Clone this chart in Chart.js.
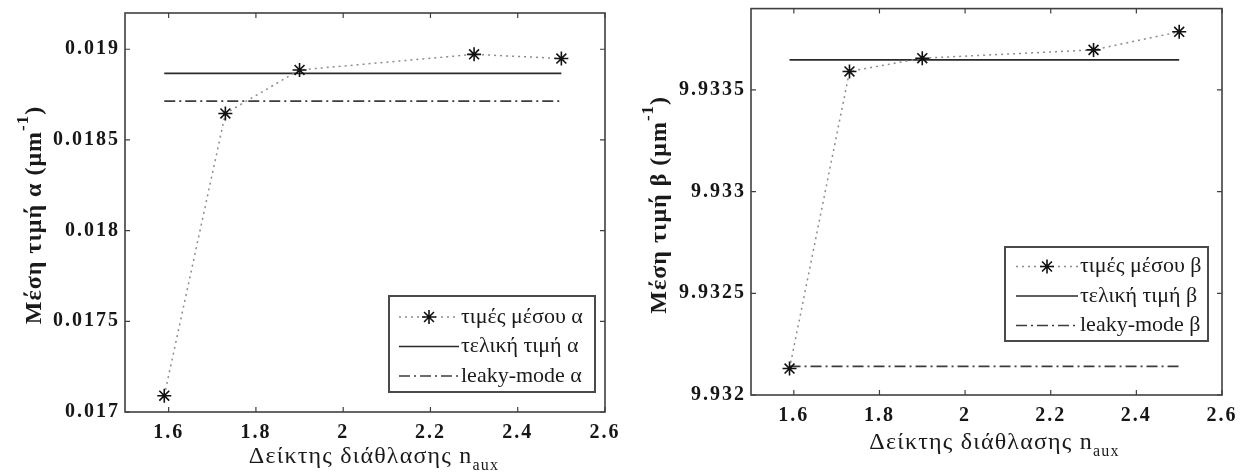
<!DOCTYPE html>
<html>
<head>
<meta charset="utf-8">
<script src="https://cdn.jsdelivr.net/npm/chart.js@4/dist/chart.umd.min.js"></script>
<style>
  html, body { margin: 0; padding: 0; background: #fff; width: 1243px; height: 475px; overflow: hidden; }
  .panel { position: absolute; top: 0; }
  #alphaWrap { left: 0; width: 620px; height: 475px; }
  #betaWrap { left: 620px; width: 623px; height: 475px; }
</style>
</head>
<body>
<div class="panel" id="alphaWrap"><canvas id="alphaChart" width="620" height="475"></canvas></div>
<div class="panel" id="betaWrap"><canvas id="betaChart" width="623" height="475"></canvas></div>
<script>
// Refractive index of the auxiliary layer (x values shared by both panels)
const nAux = [1.59, 1.73, 1.9, 2.3, 2.5];

// Attenuation constant α (μm^-1)
const meanAlpha = [0.01709, 0.018646, 0.018886, 0.018972, 0.018949];
const finalAlpha = 0.018867;
const leakyAlpha = 0.018714;

// Propagation constant β (μm^-1)
const meanBeta = [9.93213, 9.933591, 9.933656, 9.933697, 9.933786];
const finalBeta = 9.933648;
const leakyBeta = 9.932141;

// Tick values
const xTicks = [1.6, 1.8, 2, 2.2, 2.4, 2.6];
const alphaTicks = [0.017, 0.0175, 0.018, 0.0185, 0.019];
const betaTicks = [9.932, 9.9325, 9.933, 9.9335];

// Series names
const alphaLabels = ['τιμές μέσου α', 'τελική τιμή α', 'leaky-mode α'];
const betaLabels = ['τιμές μέσου β', 'τελική τιμή β', 'leaky-mode β'];

const SERIF = "'Liberation Serif', 'Times New Roman', serif";
const TICK_SPACING = '2px';

// Frame around the plot area with short inward tick marks on all four sides
const framePlugin = {
  id: 'frame',
  beforeLayout(chart) { chart.ctx.letterSpacing = TICK_SPACING; },
  beforeDraw(chart) { chart.ctx.letterSpacing = TICK_SPACING; },
  afterDraw(chart) {
    const { ctx, chartArea: a, scales } = chart;
    ctx.save();
    ctx.strokeStyle = '#404040';
    ctx.lineWidth = 1.6;
    ctx.strokeRect(a.left, a.top, a.right - a.left, a.bottom - a.top);
    ctx.lineWidth = 1.2;
    const len = 5;
    ctx.beginPath();
    scales.x.ticks.forEach(t => {
      const px = scales.x.getPixelForValue(t.value);
      ctx.moveTo(px, a.bottom); ctx.lineTo(px, a.bottom - len);
      ctx.moveTo(px, a.top); ctx.lineTo(px, a.top + len);
    });
    scales.y.ticks.forEach(t => {
      const py = scales.y.getPixelForValue(t.value);
      ctx.moveTo(a.left, py); ctx.lineTo(a.left + len, py);
      ctx.moveTo(a.right, py); ctx.lineTo(a.right - len, py);
    });
    ctx.stroke();
    ctx.restore();
  }
};

// Axis titles with sub/superscripts
const titlePlugin = {
  id: 'axisTitles',
  afterDraw(chart, args, opts) {
    const { ctx, chartArea: a } = chart;
    ctx.save();
    ctx.fillStyle = '#1a1a1a';
    ctx.textAlign = 'left';
    ctx.textBaseline = 'alphabetic';

    // vertical title
    const y = opts.y;
    ctx.save();
    ctx.letterSpacing = y.spacing;
    ctx.translate(a.left - y.offset, (a.top + a.bottom) / 2 + y.shift);
    ctx.rotate(-Math.PI / 2);
    ctx.font = `bold ${y.size}px ${SERIF}`;
    const wMain = ctx.measureText(y.main).width;
    const wTail = ctx.measureText(y.tail).width;
    ctx.font = `bold ${y.supSize}px ${SERIF}`;
    const wSup = ctx.measureText(y.sup).width;
    let x0 = -(wMain + wSup + wTail) / 2;
    const base = y.size * 0.33;
    ctx.font = `bold ${y.size}px ${SERIF}`;
    ctx.fillText(y.main, x0, base);
    x0 += wMain;
    ctx.font = `bold ${y.supSize}px ${SERIF}`;
    ctx.fillText(y.sup, x0, base - y.size * 0.55);
    x0 += wSup;
    ctx.font = `bold ${y.size}px ${SERIF}`;
    ctx.fillText(y.tail, x0, base);
    ctx.restore();

    // horizontal title
    const xt = opts.x;
    ctx.letterSpacing = xt.spacing;
    ctx.font = `${xt.size}px ${SERIF}`;
    const wx = ctx.measureText(xt.main).width;
    ctx.font = `${xt.subSize}px ${SERIF}`;
    const ws = ctx.measureText(xt.sub).width;
    let sx = (a.left + a.right) / 2 + xt.shift - (wx + ws) / 2;
    const by = a.bottom + xt.offset;
    ctx.font = `${xt.size}px ${SERIF}`;
    ctx.fillText(xt.main, sx, by);
    ctx.font = `${xt.subSize}px ${SERIF}`;
    ctx.fillText(xt.sub, sx + wx, by + xt.size * 0.3);
    ctx.restore();
  }
};

// Boxed legend drawn from the datasets' own styles
const boxLegendPlugin = {
  id: 'boxLegend',
  afterDraw(chart, args, opts) {
    const { ctx, chartArea: a } = chart;
    const bx = a.right - opts.right - opts.width;
    const by = a.bottom - opts.bottom - opts.height;
    ctx.save();
    ctx.letterSpacing = '0px';
    ctx.fillStyle = '#fff';
    ctx.fillRect(bx, by, opts.width, opts.height);
    ctx.strokeStyle = '#4a4a4a';
    ctx.lineWidth = 2;
    ctx.strokeRect(bx, by, opts.width, opts.height);
    chart.data.datasets.forEach((ds, i) => {
      const ry = by + opts.firstRow + i * opts.rowGap;
      const x1 = bx + opts.sampleStart, x2 = bx + opts.sampleEnd;
      ctx.save();
      ctx.strokeStyle = ds.borderColor;
      ctx.lineWidth = ds.borderWidth;
      ctx.setLineDash(ds.borderDash || []);
      ctx.beginPath();
      ctx.moveTo(x1, ry); ctx.lineTo(x2, ry);
      ctx.stroke();
      ctx.restore();
      if (ds.pointRadius > 0) {
        ctx.save();
        ctx.strokeStyle = ds.pointBorderColor;
        ctx.fillStyle = ds.pointBackgroundColor;
        ctx.lineWidth = ds.pointBorderWidth;
        Chart.helpers.drawPoint(ctx, { pointStyle: ds.pointStyle, radius: ds.pointRadius, borderWidth: ds.pointBorderWidth, rotation: 0 }, (x1 + x2) / 2, ry);
        ctx.restore();
      }
      ctx.fillStyle = '#1a1a1a';
      ctx.font = `${opts.fontSize}px ${SERIF}`;
      ctx.textAlign = 'left';
      ctx.textBaseline = 'middle';
      ctx.fillText(ds.label, bx + opts.textStart, ry);
    });
    ctx.restore();
  }
};

function buildChart(canvasId, meanVals, finalVal, leakyVal, yTicks, yMin, yMax, labels, cfg) {
  const tickFont = { family: SERIF, size: 20, weight: 'bold' };
  const first = nAux[0], last = nAux[nAux.length - 1];
  return new Chart(document.getElementById(canvasId), {
    type: 'line',
    data: {
      datasets: [
        {
          label: labels[0],
          data: nAux.map((x, i) => ({ x, y: meanVals[i] })),
          borderColor: '#8c8c8c', borderWidth: 1.5, borderDash: [2, 4],
          pointStyle: 'star', pointRadius: 7, pointBorderWidth: 1.6,
          pointBorderColor: '#111', pointBackgroundColor: '#111',
          tension: 0
        },
        {
          label: labels[1],
          data: [{ x: first, y: finalVal }, { x: last, y: finalVal }],
          borderColor: '#2a2a2a', borderWidth: 1.6, pointRadius: 0
        },
        {
          label: labels[2],
          data: [{ x: first, y: leakyVal }, { x: last, y: leakyVal }],
          borderColor: '#3c3c3c', borderWidth: 1.6, borderDash: [11, 4, 2, 4], pointRadius: 0
        }
      ]
    },
    options: {
      responsive: false,
      animation: false,
      devicePixelRatio: 1,
      layout: { padding: cfg.padding },
      scales: {
        x: {
          type: 'linear', min: 1.5, max: 2.6,
          grid: { display: false, drawTicks: false },
          border: { display: false },
          ticks: { font: tickFont, color: '#161616', padding: 9, autoSkip: false, maxRotation: 0, callback: v => String(v) },
          afterBuildTicks: s => { s.ticks = xTicks.map(v => ({ value: v })); },
          afterFit: s => { s.height = cfg.xHeight; s.paddingLeft = 0; s.paddingRight = 0; }
        },
        y: {
          type: 'linear', min: yMin, max: yMax,
          grid: { display: false, drawTicks: false },
          border: { display: false },
          ticks: { font: tickFont, color: '#161616', padding: 5, autoSkip: false, callback: v => String(v) },
          afterBuildTicks: s => { s.ticks = yTicks.map(v => ({ value: v })); },
          afterFit: s => { s.width = cfg.yWidth; s.paddingTop = 0; s.paddingBottom = 0; }
        }
      },
      plugins: {
        legend: { display: false },
        tooltip: { enabled: false },
        axisTitles: cfg.titles,
        boxLegend: cfg.legend
      }
    },
    plugins: [framePlugin, titlePlugin, boxLegendPlugin]
  });
}

buildChart('alphaChart', meanAlpha, finalAlpha, leakyAlpha, alphaTicks, 0.017, 0.0192, alphaLabels, {
  padding: { left: 0, top: 13, right: 15, bottom: 0 },
  xHeight: 63, yWidth: 125,
  titles: {
    y: { main: 'Μέση τιμή α (μm', sup: '-1', tail: ')', size: 24, supSize: 17, spacing: '1px', offset: 92, shift: 2.5 },
    x: { main: 'Δείκτης διάθλασης n', sub: 'aux', size: 24, subSize: 16, spacing: '1.2px', offset: 51, shift: 9 }
  },
  legend: { right: 10, bottom: 20, width: 206, height: 96, firstRow: 21, rowGap: 29.5, sampleStart: 10, sampleEnd: 70, textStart: 72, fontSize: 22 }
});

buildChart('betaChart', meanBeta, finalBeta, leakyBeta, betaTicks, 9.932, 9.9339, betaLabels, {
  padding: { left: 0, top: 5, right: 21, bottom: 0 },
  xHeight: 80, yWidth: 131,
  titles: {
    y: { main: 'Μέση τιμή β (μm', sup: '-1', tail: ')', size: 24, supSize: 17, spacing: '1px', offset: 93, shift: 3 },
    x: { main: 'Δείκτης διάθλασης n', sub: 'aux', size: 24, subSize: 16, spacing: '1.2px', offset: 54, shift: 8 }
  },
  legend: { right: 14, bottom: 54, width: 203, height: 94, firstRow: 19.5, rowGap: 29.5, sampleStart: 11, sampleEnd: 73, textStart: 75, fontSize: 22 }
});
</script>
</body>
</html>
